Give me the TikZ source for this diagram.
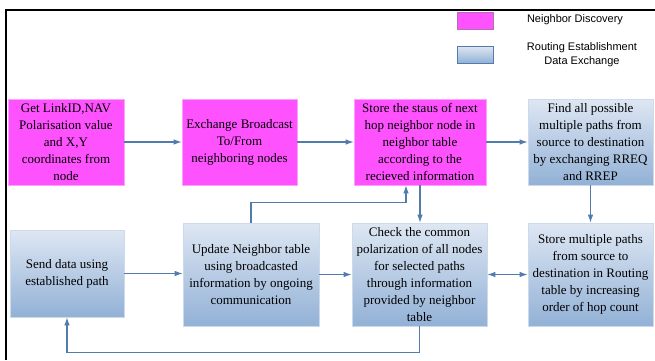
\documentclass[tikz,border=0pt]{standalone}
\usepackage{fontspec}
\setmainfont{Liberation Serif}
\newfontfamily\legendfont{Liberation Sans}
\usetikzlibrary{arrows.meta}

\definecolor{ndmagenta}{RGB}{255,82,255}
\definecolor{ndedge}{RGB}{255,160,255}
\definecolor{rtop}{RGB}{222,231,243}
\definecolor{rbottom}{RGB}{146,177,214}
\definecolor{redge}{RGB}{205,218,236}
\definecolor{connblue}{RGB}{82,124,172}

\tikzset{
  procbox/.style={draw, line width=0.6pt, inner sep=0pt, align=center,
    font=\fontsize{13}{17}\selectfont},
  discovery/.style={procbox, fill=ndmagenta, draw=ndedge},
  routing/.style={procbox, top color=rtop, bottom color=rbottom, draw=redge},
  conn/.style={draw=connblue, line width=1.1pt,
    -{Latex[length=8pt,width=5.5pt]}},
  biconn/.style={draw=connblue, line width=1.1pt,
    {Latex[length=8pt,width=5.5pt]}-{Latex[length=8pt,width=5.5pt]}},
  legendtext/.style={font=\legendfont\fontsize{11}{14}\selectfont, align=center}
}

\begin{document}
\begin{tikzpicture}[x=1pt,y=-1pt]
  % canvas
  \fill[white] (0,0) rectangle (655,360);
  \useasboundingbox (0,0) rectangle (655,360);

  % frame edges
  \draw[line width=2pt] (6,360) -- (6,10) -- (655,10);

  % legend
  \node[draw=ndedge!70!black, fill=ndmagenta, line width=0.6pt,
        minimum width=36pt, minimum height=17pt, inner sep=0pt] (legnd) at (475,20.5) {};
  \node[legendtext] (legndtext) at (575,20) {Neighbor Discovery};
  \node[draw=connblue, top color=rtop, bottom color=rbottom, line width=0.6pt,
        minimum width=36pt, minimum height=17pt, inner sep=0pt] (legrt) at (475,54.5) {};
  \node[legendtext] (legrttext) at (582,55) {Routing Establishment\\Data Exchange};

  % top row
  \node[discovery, minimum width=116pt, minimum height=86pt] (b1) at (66,142)
    {Get LinkID,NAV\\Polarisation value\\and X,Y\\coordinates from\\node};
  \node[discovery, minimum width=115pt, minimum height=86pt] (b2) at (239.5,142)
    {Exchange Broadcast\\To/From\\neighboring nodes};
  \node[discovery, minimum width=132pt, minimum height=86pt] (b3) at (420,142)
    {Store the staus of next\\hop neighbor node in\\neighbor table\\according to the\\recieved information};
  \node[routing, minimum width=125pt, minimum height=86pt] (b4) at (590.5,142)
    {Find all possible\\multiple paths from\\source to destination\\by exchanging RREQ\\and RREP};

  % bottom row
  \node[routing, minimum width=114pt, minimum height=87pt] (b5) at (67,273.5)
    {Send data using\\established path};
  \node[routing, minimum width=136pt, minimum height=103pt] (b6) at (251,274.5)
    {Update Neighbor table\\using broadcasted\\information by ongoing\\communication};
  \node[routing, minimum width=135pt, minimum height=103pt] (b7) at (419.5,274.5)
    {Check the common\\polarization of all nodes\\for selected paths\\through information\\provided by neighbor\\table};
  \node[routing, minimum width=125pt, minimum height=103pt] (b8) at (590.5,274.5)
    {Store multiple paths\\from source to\\destination in Routing\\table by increasing\\order of hop count};

  % connectors
  \draw[conn] (b1.east) -- (b2.west);
  \draw[conn] (b2.east) -- (b3.west);
  \draw[conn] (b3.east) -- (b4.west);
  \draw[conn] (b4.south) -- (b8.north);
  \draw[conn] (b3.south) -- (b3.south |- b7.north);
  \draw[conn] (b6.north) -- ++(0,-20) -| ([xshift=-14pt]b3.south);
  \draw[conn] (b5.east) -- (b5.east -| b6.west);
  \draw[conn] (b6.east |- b7.west) -- (b7.west);
  \draw[biconn] (b7.east) -- (b8.west);
  \draw[conn] (b7.south) -- ++(0,26) -| (b5.south);
\end{tikzpicture}
\end{document}
